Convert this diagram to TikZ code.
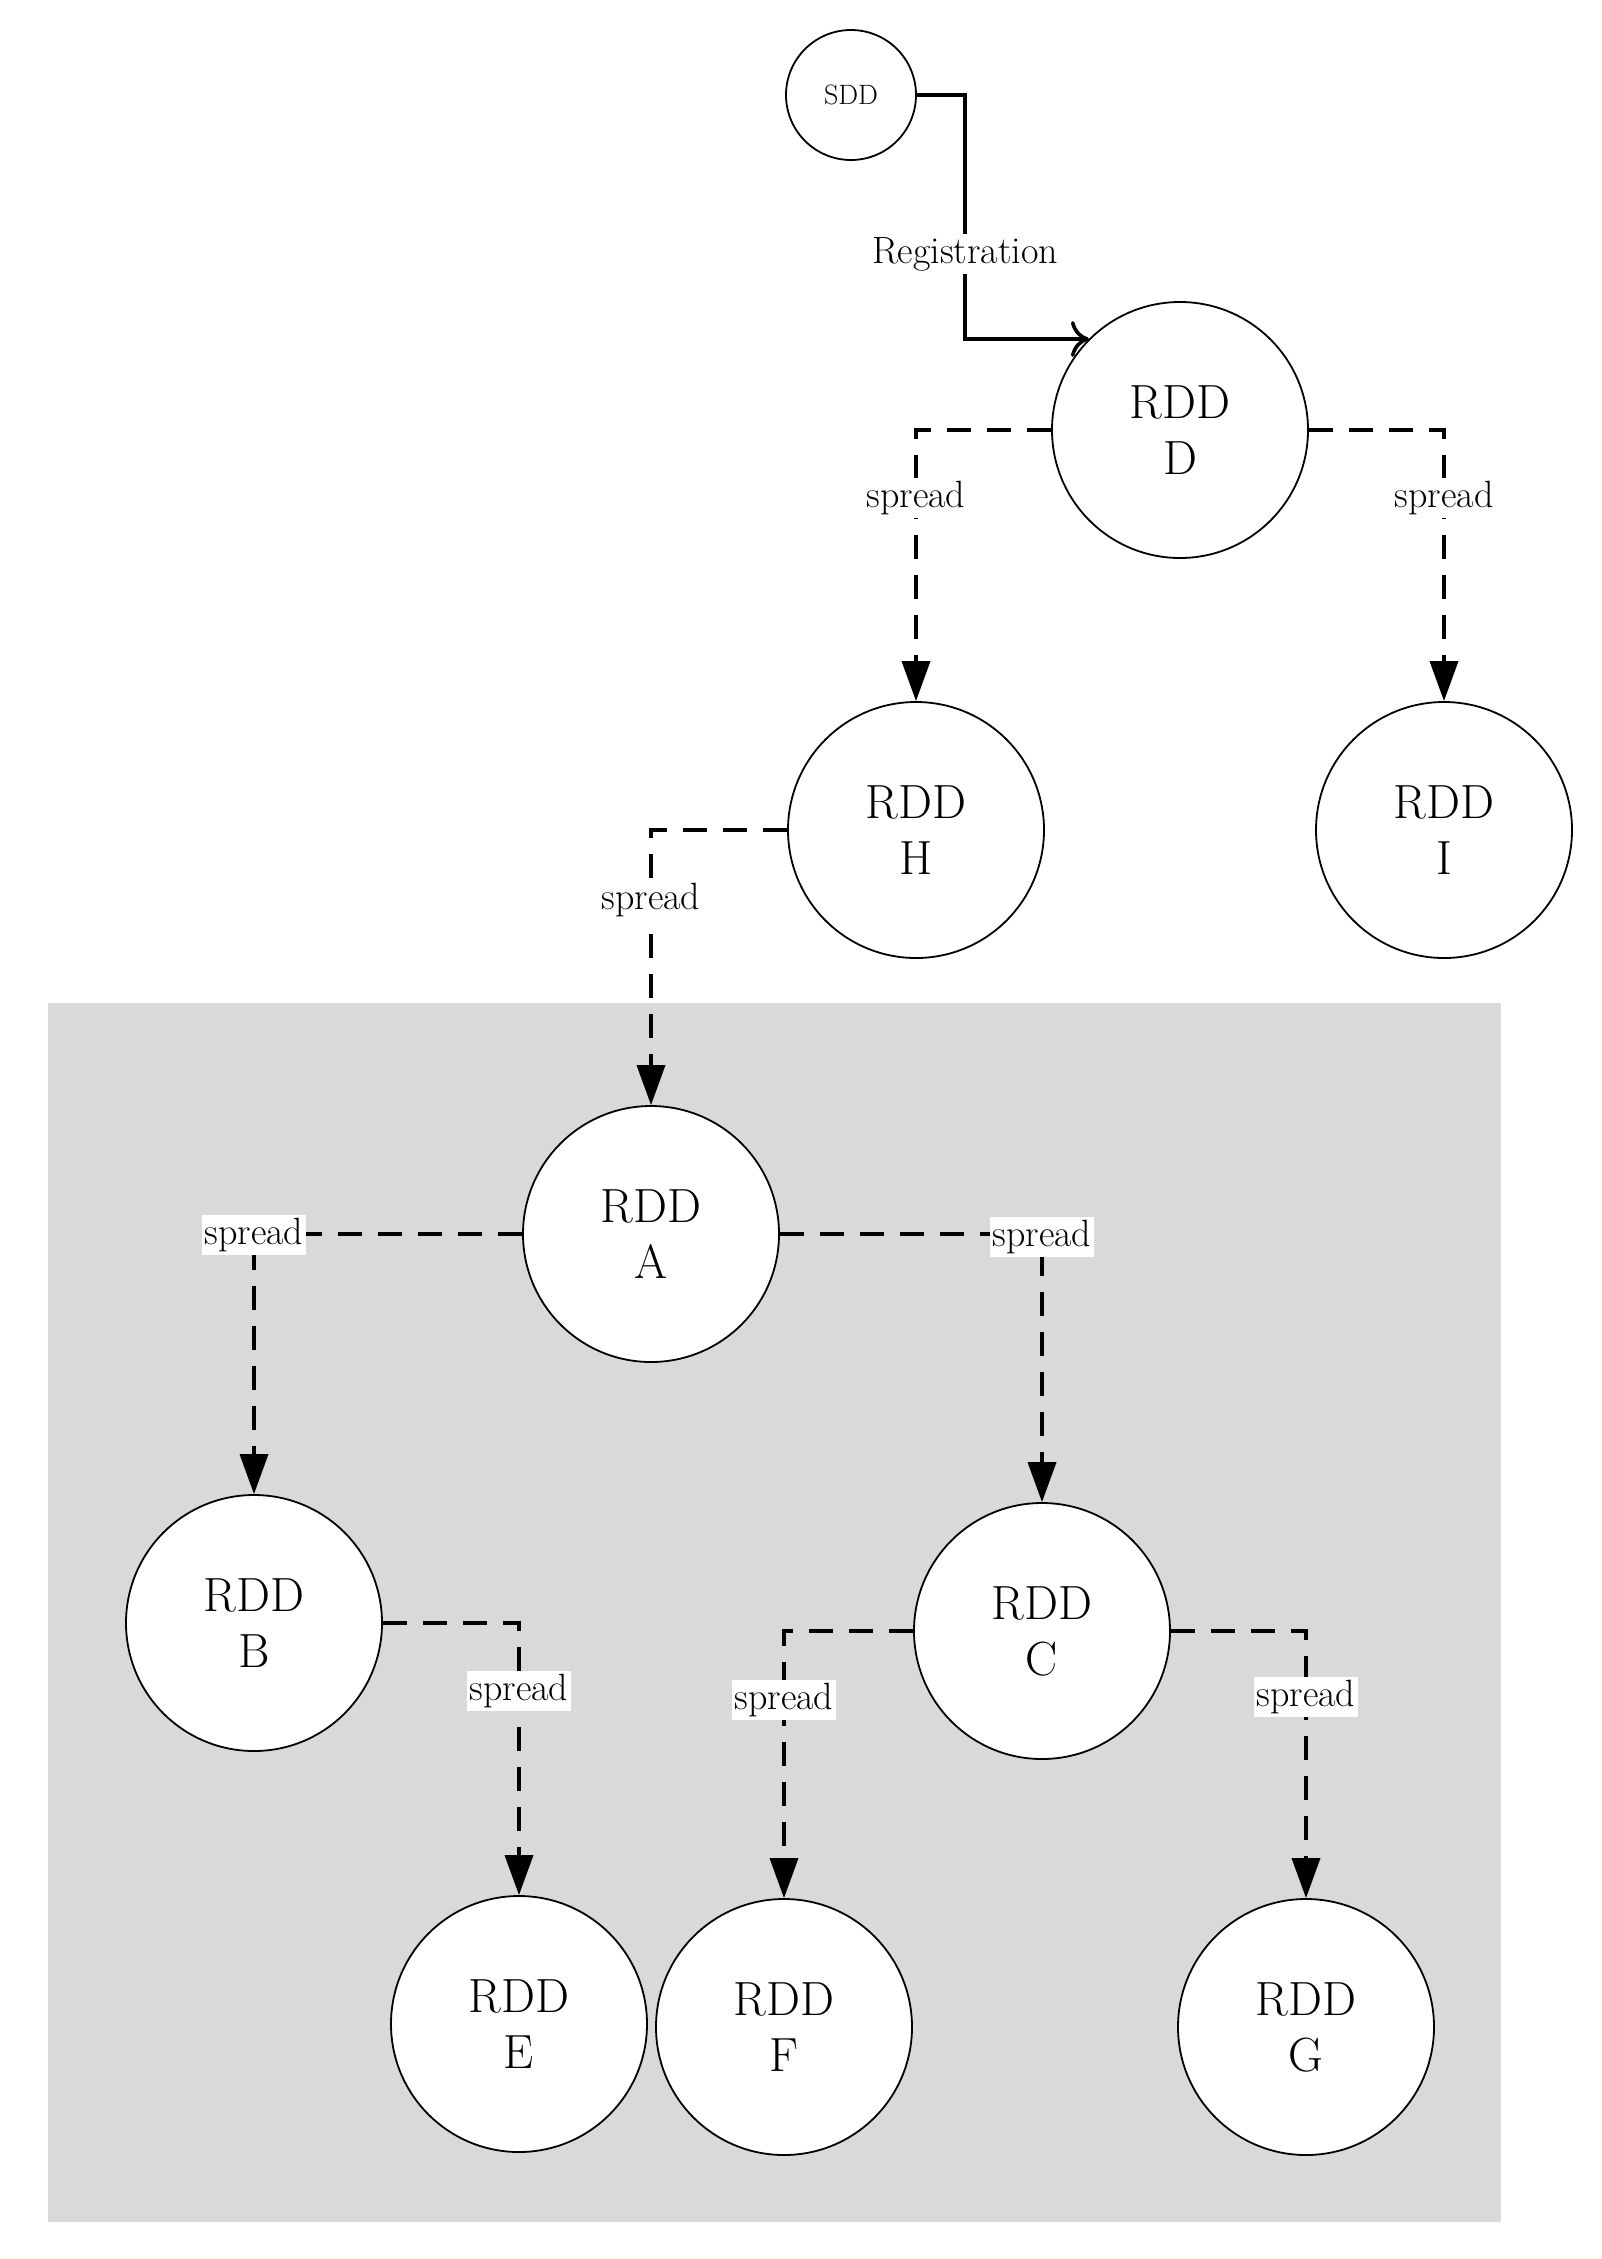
\documentclass[tikz,border=0pt]{standalone}
\usetikzlibrary{arrows.meta}
\begin{document}
\begin{tikzpicture}[x=1pt,y=-1pt,
  rdd/.style={circle,draw,line width=1.8pt,minimum size=256pt,inner sep=0pt,fill=white,align=center,font=\fontsize{48}{56}\selectfont},
  sp/.style={dash pattern=on 24pt off 16pt,line width=3.6pt,-{Triangle[length=40pt,width=28pt]}},
  lab/.style={fill=white,inner sep=3pt,font=\fontsize{38}{42}\selectfont}]
\useasboundingbox (0,0) rectangle (1601,2259);
\fill[gray!30] (48,1003) rectangle (1501,2222);
\node[circle,draw,line width=1.8pt,minimum size=130pt,inner sep=0pt,font=\fontsize{28}{32}\selectfont] (sdd) at (851,95) {SDD};
\node[rdd] (D) at (1180,430) {RDD\\D};
\node[rdd] (H) at (916,830) {RDD\\H};
\node[rdd] (I) at (1444,830) {RDD\\I};
\node[rdd] (A) at (651,1234) {RDD\\A};
\node[rdd] (B) at (254,1623) {RDD\\B};
\node[rdd] (C) at (1042,1631) {RDD\\C};
\node[rdd] (E) at (519,2024) {RDD\\E};
\node[rdd] (F) at (784,2027) {RDD\\F};
\node[rdd] (G) at (1306,2027) {RDD\\G};
\coordinate (r1) at (965,95);
\coordinate (r2) at (965,339);
\draw[line width=3.6pt,-{To[length=18pt,width=36pt]}] (sdd.east) -- (r1) -- (r2) -- (D.north west |- r2);
\node[lab] at (965,254) {Registration};
\draw[sp] (D.west) -| (H.north);
\draw[sp] (D.east) -| (I.north);
\draw[sp] (H.west) -| (A.north);
\draw[sp] (A.west) -| (B.north);
\draw[sp] (A.east) -| (C.north);
\draw[sp] (B.east) -| (E.north);
\draw[sp] (C.west) -| (F.north);
\draw[sp] (C.east) -| (G.north);
\node[lab] at (916,498) {spread};
\node[lab] at (1444,498) {spread};
\node[lab] at (651,900) {spread};
\node[lab] at (254,1235) {spread};
\node[lab] at (1042,1237) {spread};
\node[lab] at (519,1691) {spread};
\node[lab] at (784,1700) {spread};
\node[lab] at (1306,1697) {spread};
\end{tikzpicture}
\end{document}
